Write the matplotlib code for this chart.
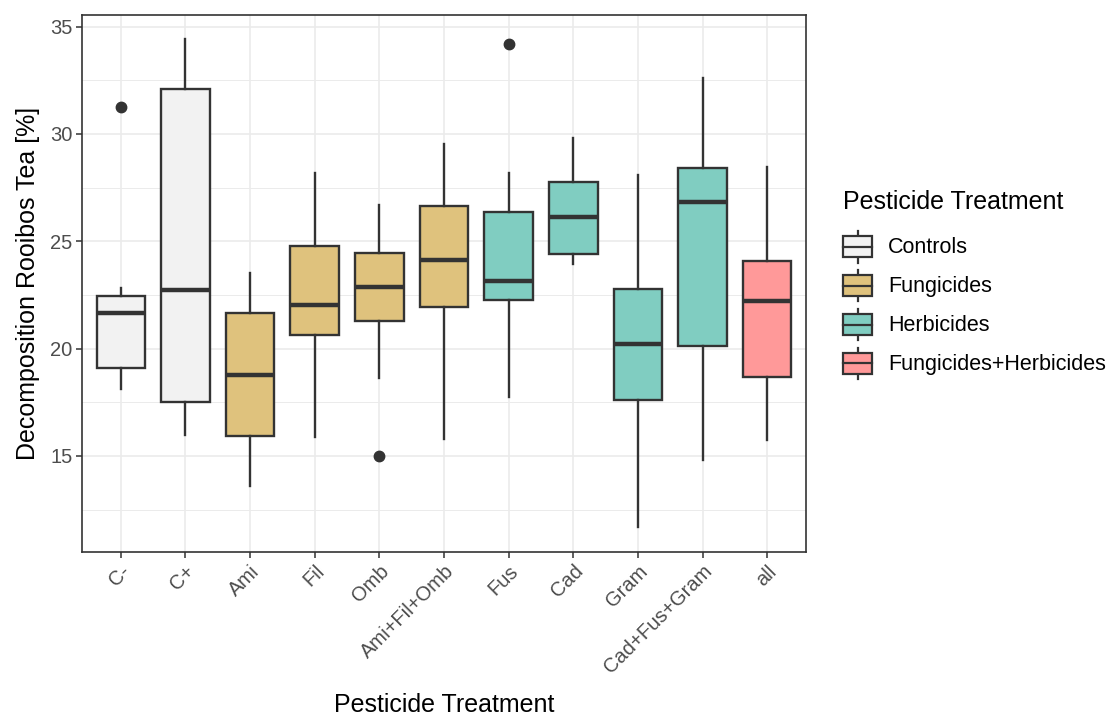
import matplotlib
matplotlib.use("Agg")
import matplotlib.pyplot as plt
from matplotlib.legend_handler import HandlerBase
from matplotlib.patches import Patch, Rectangle
from matplotlib.lines import Line2D
from matplotlib.ticker import MultipleLocator

plt.rcParams['font.family'] = ['Liberation Sans', 'DejaVu Sans']

# treatments along the x axis
treatments = ["C-", "C+", "Ami", "Fil", "Omb", "Ami+Fil+Omb",
              "Fus", "Cad", "Gram", "Cad+Fus+Gram", "all"]
groups = ["Controls", "Controls", "Fungicides", "Fungicides", "Fungicides", "Fungicides",
          "Herbicides", "Herbicides", "Herbicides", "Herbicides", "Fungicides+Herbicides"]

# box statistics
whisker_low = [18.12, 15.96, 13.61, 15.86, 18.65, 15.80, 17.75, 23.92, 11.68, 14.80, 15.75]
q1 = [19.08, 17.49, 15.93, 20.64, 21.27, 21.92, 22.26, 24.39, 17.62, 20.11, 18.68]
median = [21.67, 22.73, 18.78, 22.05, 22.88, 24.12, 23.16, 26.13, 20.22, 26.81, 22.23]
q3 = [22.43, 32.11, 21.67, 24.80, 24.45, 26.63, 26.38, 27.77, 22.76, 28.43, 24.09]
whisker_high = [22.80, 34.40, 23.51, 28.17, 26.69, 29.53, 28.17, 29.79, 28.10, 32.61, 28.48]
outliers = [[31.25], [], [], [], [15.0], [], [34.2], [], [], [], []]

group_names = ["Controls", "Fungicides", "Herbicides", "Fungicides+Herbicides"]
group_colors = ["#F2F2F2", "#DFC27D", "#80CDC1", "#FF9999"]
color_of = dict(zip(group_names, group_colors))

EDGE = "#333333"


class BoxKeyHandler(HandlerBase):
    # ggplot-like legend key: box, median line and whisker stubs
    def create_artists(self, legend, orig_handle, xdescent, ydescent,
                       width, height, fontsize, trans):
        x0, y0 = -xdescent, -ydescent
        box_h = height * 0.66
        by = y0 + (height - box_h) / 2
        xm = x0 + width / 2
        rect = Rectangle((x0, by), width, box_h, facecolor=orig_handle.get_facecolor(),
                         edgecolor=EDGE, linewidth=1.6, transform=trans)
        med = Line2D([x0, x0 + width], [y0 + height / 2] * 2, color=EDGE, lw=1.6, transform=trans)
        w1 = Line2D([xm, xm], [y0, by], color=EDGE, lw=1.6, transform=trans)
        w2 = Line2D([xm, xm], [by + box_h, y0 + height], color=EDGE, lw=1.6, transform=trans)
        return [w1, w2, rect, med]


fig = plt.figure(figsize=(11.17, 7.18), dpi=100)
ax = fig.add_axes([82 / 1117, 1 - 552 / 718, 724 / 1117, 537 / 718])

stats = []
for i, name in enumerate(treatments):
    stats.append(dict(label=name, whislo=whisker_low[i], q1=q1[i], med=median[i],
                      q3=q3[i], whishi=whisker_high[i], fliers=outliers[i]))

bp = ax.bxp(stats, positions=range(len(treatments)), widths=0.75, patch_artist=True,
            showcaps=False, zorder=3,
            boxprops=dict(edgecolor=EDGE, linewidth=1.7),
            medianprops=dict(color=EDGE, linewidth=3.2),
            whiskerprops=dict(color=EDGE, linewidth=1.7),
            flierprops=dict(marker='o', markerfacecolor=EDGE, markeredgecolor=EDGE, markersize=7.5))
for patch, g in zip(bp['boxes'], groups):
    patch.set_facecolor(color_of[g])

ax.set_xlim(-0.6, len(treatments) - 0.4)
ax.set_ylim(10.52, 35.54)
ax.yaxis.set_minor_locator(MultipleLocator(2.5))
ax.set_yticks([15, 20, 25, 30, 35])
ax.set_xticks(range(len(treatments)))
ax.set_xticklabels(treatments, rotation=45, ha='right', va='top', rotation_mode='anchor')

ax.grid(True, which='major', color='#EBEBEB', linewidth=1.2, zorder=0)
ax.grid(True, which='minor', axis='y', color='#EBEBEB', linewidth=0.7, zorder=0)
ax.set_axisbelow(True)
for sp in ax.spines.values():
    sp.set_color(EDGE)
    sp.set_linewidth(1.2)
ax.tick_params(which='major', length=4, width=1.1, color=EDGE, labelcolor='#4D4D4D',
               labelsize=14.5, pad=3)
ax.tick_params(which='minor', length=0)

ax.set_xlabel("Pesticide Treatment", fontsize=18, labelpad=11)
ax.set_ylabel("Decomposition Rooibos Tea [%]", fontsize=18, labelpad=7)

handles = [Patch(facecolor=c, edgecolor=EDGE) for c in group_colors]
leg = fig.legend(handles, group_names, loc='upper left', bbox_to_anchor=(843 / 1117, 1 - 190 / 718),
                 frameon=False, title="Pesticide Treatment", title_fontsize=18, fontsize=15.5,
                 handler_map={Patch: BoxKeyHandler()}, handlelength=1.35, handleheight=1.9,
                 handletextpad=0.75, labelspacing=0.33, borderpad=0, borderaxespad=0,
                 alignment='left')
# a bit more room between the legend title and the keys
leg._legend_box.sep = 12

fig.savefig("out.png", dpi=100)
